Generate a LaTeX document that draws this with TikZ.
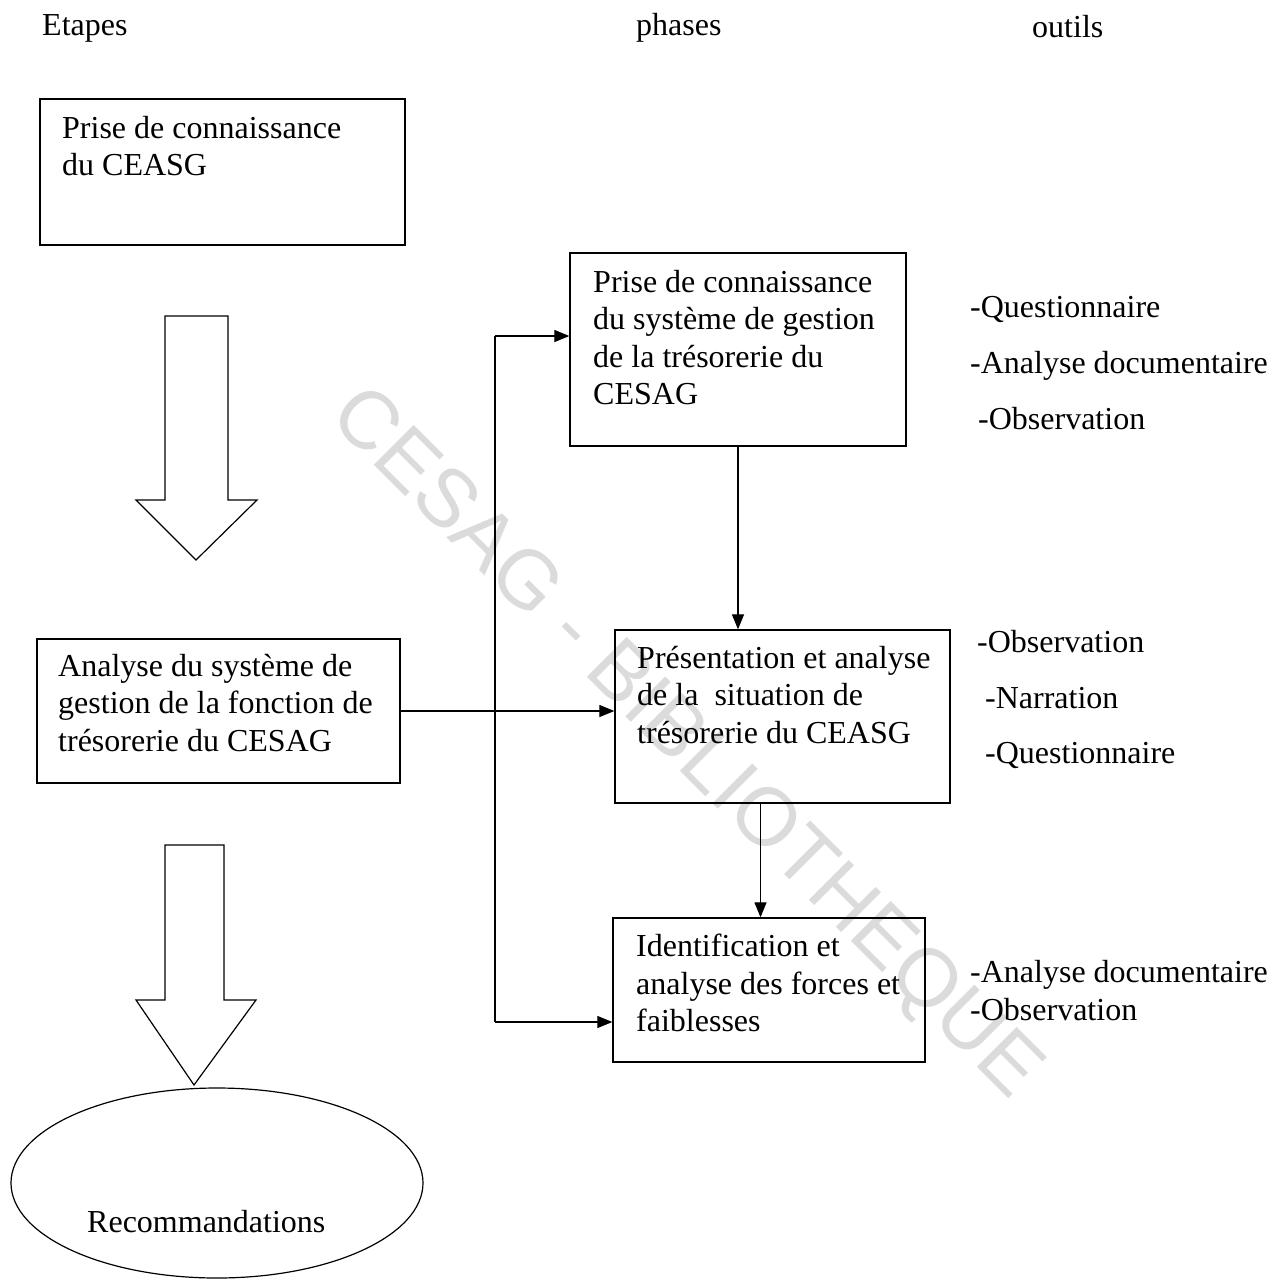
\documentclass[tikz,border=0pt]{standalone}
\usepackage{fontspec}
\setmainfont{Liberation Serif}
\newfontfamily\filigranefont{Liberation Sans}
\usetikzlibrary{arrows.meta,
                calc,
                shapes.geometric}

\begin{document}
\begin{tikzpicture}%
        [x = 1pt, y = -1pt,
         boite/.style = {draw, line width = 1.3pt, inner sep = 0pt},
         texte/.style = {anchor = north west, align = left, inner sep = 0pt,
                         font = \fontsize{32}{37.5}\selectfont},
         outil/.style = {anchor = base west, inner sep = 0pt,
                         font = \fontsize{32}{37.5}\selectfont},
         lien/.style = {line width = 1.2pt, -{Triangle[length = 15pt, width = 12pt]}},
         grosse fleche/.style = {draw, line width = 1.2pt, fill = white},
         filigrane/.style = {text = black!14, inner sep = 0pt,
                             font = \fontsize{82}{82}\filigranefont}]
        \useasboundingbox (0,0) rectangle (1273,1284);

        % filigrane
        \node [filigrane, rotate = -45] (filigrane) at (684,745) {CESAG - BIBLIOTHEQUE};

        % titres des colonnes
        \node [outil] (etapes) at (42,36) {Etapes};
        \node [outil] (phases) at (636,36) {phases};
        \node [outil] (outils) at (1032,38) {outils};

        % etapes
        \node [boite, minimum width = 365pt, minimum height = 146pt] (etape1) at (222.5,172) {};
        \node [texte] (texte1) at (62,116) {Prise de connaissance\\du CEASG};

        \draw [grosse fleche] (165,316) -- (228,316) -- (228,500) -- (257,500)
              -- (196,560) -- (136,500) -- (165,500) -- cycle;

        \node [boite, minimum width = 363pt, minimum height = 144pt] (etape2) at (218.5,711) {};
        \node [texte] (texte2) at (58,654)
              {Analyse du système de\\gestion de la fonction de\\trésorerie du CESAG};

        \draw [grosse fleche] (165,845) -- (224,845) -- (224,1000) -- (256,1000)
              -- (194,1085) -- (136,1000) -- (165,1000) -- cycle;

        \node [draw, ellipse, line width = 1.2pt, inner sep = 0pt,
               minimum width = 412pt, minimum height = 190pt] (reco) at (217,1183) {};
        \node [outil] (texte reco) at (87,1232) {Recommandations};

        % phases
        \node [boite, minimum width = 336pt, minimum height = 193pt] (phase1) at (738,349.5) {};
        \node [texte] (texte p1) at (593,270)
              {Prise de connaissance\\du système de gestion\\de la trésorerie du\\CESAG};

        \node [boite, minimum width = 335pt, minimum height = 173pt] (phase2) at (782.5,716.5) {};
        \node [texte] (texte p2) at (637,646)
              {Présentation et analyse\\de la~ situation de\\trésorerie du CEASG};

        \node [boite, minimum width = 312pt, minimum height = 144pt] (phase3) at (769,990) {};
        \node [texte] (texte p3) at (636,934)
              {Identification et\\analyse des forces et\\faiblesses};

        % liens
        \coordinate (haut) at (495,336);
        \coordinate (bas) at (495,1022);
        \coordinate (sortie p2) at ($(phase2.south)+(-22,0)$);
        \draw [line width = 1.2pt] (haut) -- (bas);
        \draw [lien] (haut) -- (haut -| phase1.west);
        \draw [lien] (bas) -- (bas -| phase3.west);
        \draw [lien] (etape2.east) -- (etape2.east -| phase2.west);
        \draw [lien] (phase1.south) -- (phase1.south |- phase2.north);
        \draw [lien] (sortie p2) -- (sortie p2 |- phase3.north);

        % outils
        \node [outil] (o1) at (970,317) {-Questionnaire};
        \node [outil] (o2) at (970,373) {-Analyse documentaire};
        \node [outil] (o3) at (978,429) {-Observation};
        \node [outil] (o4) at (977,652) {-Observation};
        \node [outil] (o5) at (985,708) {-Narration};
        \node [outil] (o6) at (985,763) {-Questionnaire};
        \node [outil] (o7) at (970,982) {-Analyse documentaire};
        \node [outil] (o8) at (970,1020) {-Observation};
\end{tikzpicture}
\end{document}
